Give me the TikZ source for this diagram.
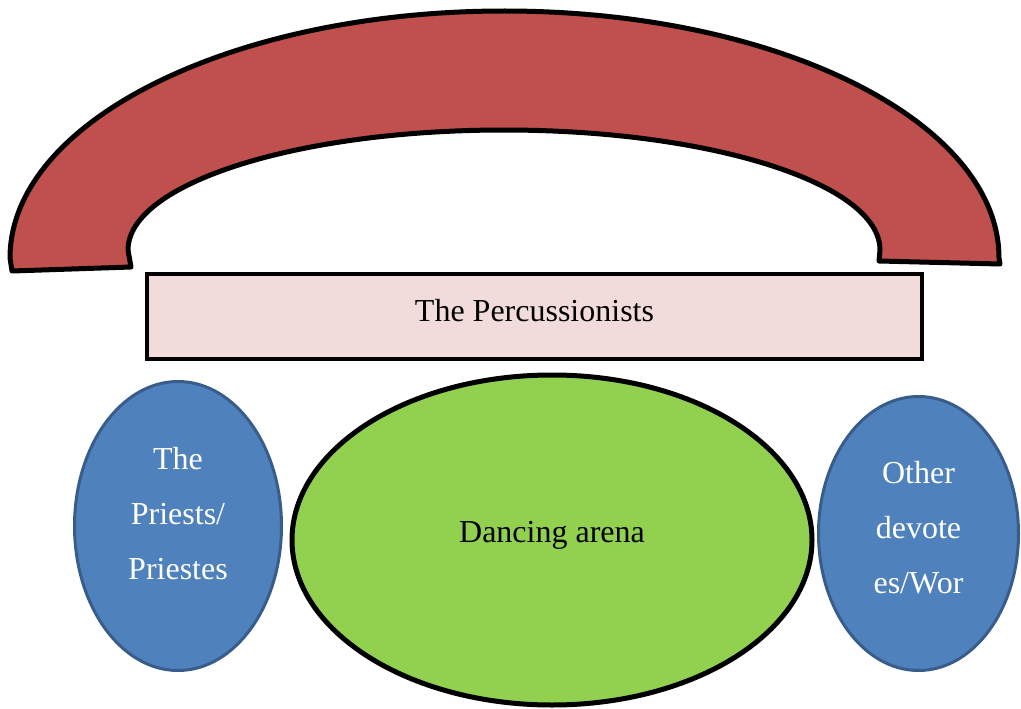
\documentclass[tikz,border=0pt]{standalone}
\usepackage{fontspec}
\setmainfont{Liberation Serif}
\usetikzlibrary{shapes.geometric}
\definecolor{arcred}{HTML}{C0504D}
\definecolor{rowpink}{HTML}{F2DCDB}
\definecolor{arenagreen}{HTML}{92D050}
\definecolor{groupblue}{HTML}{4F81BD}
\definecolor{groupedge}{HTML}{385D8A}
\tikzset{
  label text/.style={font=\fontsize{32}{55}\selectfont, align=center, inner sep=0pt},
  group oval/.style={ellipse, draw=groupedge, line width=3pt, fill=groupblue, inner sep=0pt},
}
\begin{document}
\begin{tikzpicture}[x=1pt, y=-1pt]
  \useasboundingbox (0,0) rectangle (1021,709);

  % curved band behind the drummers
  \draw[line width=5pt, line join=round, fill=arcred]
    (12,271) -- (10,258)
    arc[start angle=180, end angle=0, x radius=494.5, y radius=-247]
    -- (1000,264) -- (879,261) -- (880,250)
    arc[start angle=0, end angle=180, x radius=376, y radius=-120]
    -- (131,267) -- cycle;

  % row of percussionists
  \node[draw, line width=4.5pt, fill=rowpink, minimum width=775pt,
        minimum height=85pt, inner sep=0pt] (perc) at (534.5,316.5) {};
  \node[label text] (perctext) at (534.5,311) {The Percussionists};

  % dancing arena
  \node[ellipse, draw, line width=5pt, fill=arenagreen, inner sep=0pt,
        minimum width=520pt, minimum height=330pt] (arena) at (552,540) {};
  \node[label text] (arenatext) at (552,535) {Dancing arena};

  % side groups
  \node[group oval, minimum width=207pt, minimum height=289pt] (priests) at (178,526) {};
  \node[label text, text=white] (priesttext) at (178,514) {The\\Priests/\\Priestes};

  \node[group oval, minimum width=200pt, minimum height=274pt] (others) at (918.5,533.5) {};
  \node[label text, text=white] (othertext) at (918.5,528) {Other\\devote\\es/Wor};
\end{tikzpicture}
\end{document}
